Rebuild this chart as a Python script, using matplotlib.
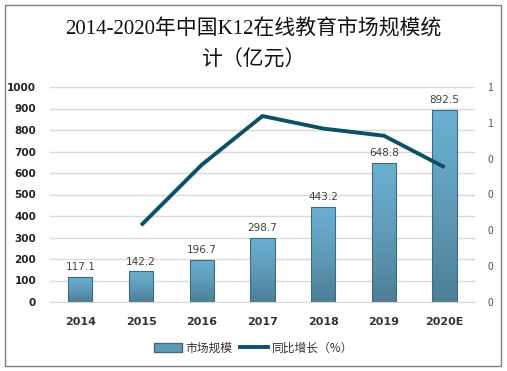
import numpy as np
import matplotlib.pyplot as plt
from matplotlib.patches import Rectangle
from matplotlib.lines import Line2D

plt.rcParams['font.family'] = ['Noto Sans CJK SC', 'DejaVu Sans']

years = ['2014', '2015', '2016', '2017', '2018', '2019', '2020E']
market_size = [117.1, 142.2, 196.7, 298.7, 443.2, 648.8, 892.5]
growth = [np.nan, 0.214, 0.383, 0.519, 0.484, 0.464, 0.376]
title = '2014-2020年中国K12在线教育市场规模统\n计（亿元）'

fig = plt.figure(figsize=(5.07, 3.71), dpi=100)
ax = fig.add_axes([50 / 507, 1 - 302 / 371, 425 / 507, 215 / 371])
ax2 = ax.twinx()

x = np.arange(len(years))

# gradient bars
cmap = plt.matplotlib.colors.LinearSegmentedColormap.from_list(
    'bar', ['#4d7f96', '#5f9bb9', '#6bb0d2'])
grad = np.linspace(0, 1, 100).reshape(-1, 1)
bars = ax.bar(x, market_size, width=0.4, color='none', edgecolor='#3e6b80',
              linewidth=0.8, zorder=3)
for b in bars:
    im = ax.imshow(grad, cmap=cmap, aspect='auto', origin='lower',
                   extent=[b.get_x(), b.get_x() + b.get_width(), 0, b.get_height()],
                   zorder=2)
    im.set_clip_path(b)
    ax.text(b.get_x() + b.get_width() / 2, b.get_height() + 22,
            f'{b.get_height():.1f}', ha='center', va='bottom',
            fontsize=7.5, color='#404040', family='DejaVu Sans')

ax.set_xlim(-0.5, len(years) - 0.5)
ax.set_ylim(0, 1000)
ax.set_yticks(range(0, 1001, 100))
ax.set_xticks(x)
ax.set_xticklabels(years, fontsize=8, fontweight='bold', color='#333333',
                   family='DejaVu Sans')
ax.tick_params(axis='y', labelsize=7.5, colors='#222222', length=0, pad=10)
ax.tick_params(axis='x', length=0, pad=11)
for lab in ax.get_yticklabels():
    lab.set_fontweight('bold')
    lab.set_family('DejaVu Sans')
ax.grid(axis='y', color='#d9d9d9', linewidth=1, zorder=0)
ax.set_axisbelow(True)
for s in ax.spines.values():
    s.set_visible(False)
ax.spines['bottom'].set_visible(True)
ax.spines['bottom'].set_color('#d9d9d9')

ax2.plot(x, growth, color='#0e5068', linewidth=2.8, zorder=5,
         solid_capstyle='butt')
ax2.set_ylim(0, 0.6)
ax2.set_yticks(np.arange(0, 0.61, 0.1))
ax2.set_yticklabels(['0', '0', '0', '0', '0', '1', '1'])
ax2.tick_params(axis='y', labelsize=7.5, colors='#555555', length=0, pad=9)
for s in ax2.spines.values():
    s.set_visible(False)

fig.text(0.5, 1 - 45 / 371, title, ha='center', va='center', fontsize=15,
         fontweight='medium', family=['Liberation Serif', 'Noto Sans CJK SC'],
         color='#111111', linespacing=1.7)

handles = [Rectangle((0, 0), 1, 1, facecolor='#5f9bb9', edgecolor='#3e6b80'),
           Line2D([0], [0], color='#0e5068', linewidth=2.8)]
fig.legend(handles, ['市场规模', '同比增长（%）'], loc='center',
           bbox_to_anchor=(0.5, 1 - 348 / 371), ncol=2, frameon=False,
           fontsize=8.5, handlelength=2.4, handletextpad=0.3, columnspacing=0.6,
           labelcolor='#333333')

fig.patches.append(Rectangle((5 / 507, 5 / 371), 496 / 507, 361 / 371,
                             transform=fig.transFigure, fill=False,
                             edgecolor='#7f7f7f', linewidth=1))

fig.savefig('out.png', dpi=100)
